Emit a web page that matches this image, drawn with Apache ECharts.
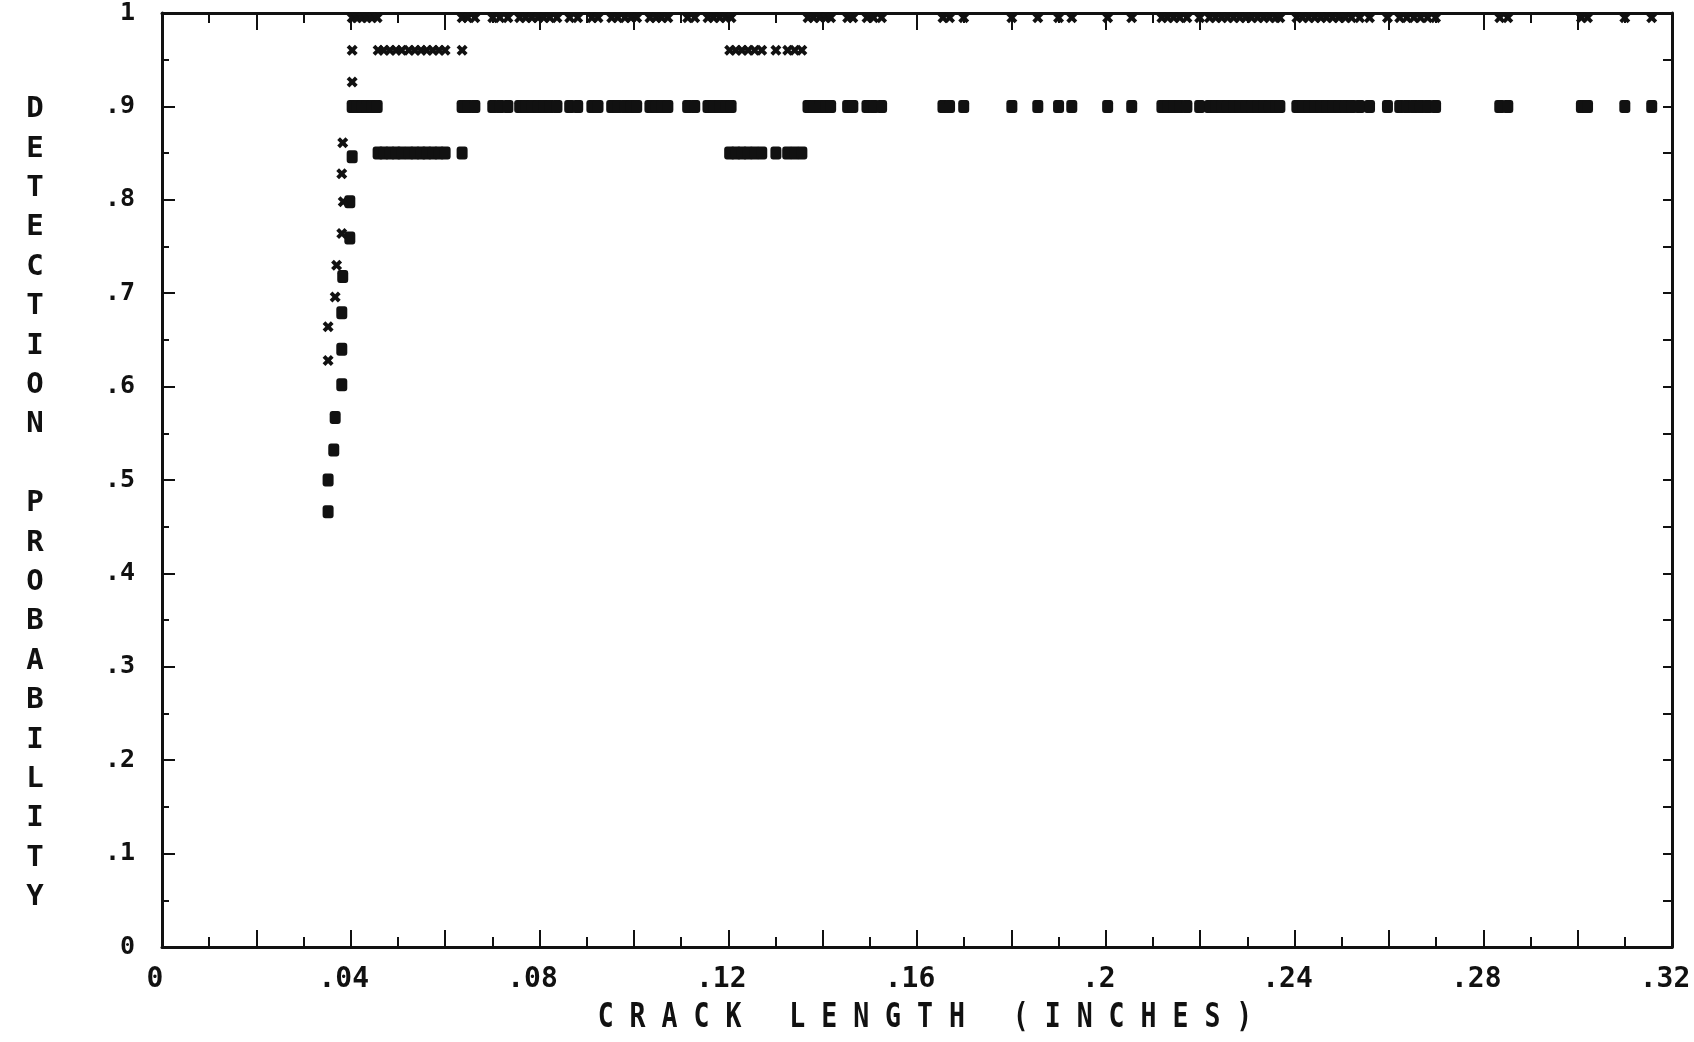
<!DOCTYPE html>
<html><head><meta charset="utf-8">
<script src="https://cdn.jsdelivr.net/npm/echarts/dist/echarts.min.js"></script>
<style>html,body{margin:0;padding:0;background:#fff}#c{width:1694px;height:1042px}</style>
</head><body><div id="c"></div>
<script>
// ---- tick labels & titles ----
const xTickLabels = ['0', '.04', '.08', '.12', '.16', '.2', '.24', '.28', '.32'];
const yTickLabels = ['0', '.1', '.2', '.3', '.4', '.5', '.6', '.7', '.8', '.9', '1'];
const xTitle = 'CRACK LENGTH (INCHES)';
const yTitle = 'DETECTION PROBABILITY';

// ---- steep rise near .04 (filled squares) ----
const squareCurveX = [0.0352, 0.0352, 0.0364, 0.0367, 0.0381, 0.0381, 0.0381, 0.0383, 0.0398, 0.0398, 0.0403];
const squareCurveY = [0.466, 0.500, 0.532, 0.567, 0.602, 0.640, 0.679, 0.718, 0.759, 0.798, 0.846];

// ---- steep rise near .04 (crosses) ----
const crossCurveX = [0.0352, 0.0352, 0.0367, 0.0370, 0.0381, 0.0384, 0.0381, 0.0383, 0.0403, 0.0403];
const crossCurveY = [0.628, 0.664, 0.696, 0.730, 0.764, 0.798, 0.828, 0.861, 0.926, 0.960];

// ---- upper band: squares at .9, crosses at the top ----
const upperBandX = [
  0.0403, 0.0413, 0.0424, 0.0434, 0.0445, 0.0456,
  0.0636, 0.0648, 0.0663,
  0.0701, 0.0716, 0.0733,
  0.0758, 0.0771, 0.0784, 0.0797, 0.0809, 0.0822, 0.0837,
  0.0864, 0.0881,
  0.0911, 0.0924,
  0.0953, 0.0966, 0.0981, 0.0994, 0.1006,
  0.1034, 0.1047, 0.1059, 0.1072,
  0.1114, 0.1129,
  0.1157, 0.1169, 0.1182, 0.1195, 0.1206,
  0.1369, 0.1381, 0.1394, 0.1407, 0.1417,
  0.1453, 0.1464,
  0.1494, 0.1508, 0.1525,
  0.1655, 0.1669,
  0.1699,
  0.1801, 0.1856, 0.1900, 0.1928, 0.2004, 0.2055,
  0.2119, 0.2131, 0.2144, 0.2157, 0.2172,
  0.2199,
  0.2220, 0.2233, 0.2246, 0.2258, 0.2271, 0.2284, 0.2297, 0.2309, 0.2322, 0.2335, 0.2347, 0.2360, 0.2369,
  0.2405, 0.2417, 0.2430, 0.2443, 0.2456, 0.2468, 0.2481, 0.2494, 0.2508, 0.2521, 0.2538,
  0.2559,
  0.2597, 0.2623, 0.2638, 0.2653, 0.2667, 0.2682, 0.2699,
  0.2835, 0.2852,
  0.3008, 0.3021,
  0.3100,
  0.3157
];
const upperBandSquareY = 0.9;
const upperBandCrossY = 0.995;

// ---- lower band: squares at .85, crosses at .96 ----
const lowerBandX = [
  0.0458, 0.0470, 0.0483, 0.0496, 0.0508, 0.0523, 0.0536, 0.0549, 0.0561, 0.0574, 0.0587, 0.0600,
  0.0636,
  0.1203, 0.1216, 0.1229, 0.1242, 0.1256, 0.1271,
  0.1301,
  0.1326, 0.1341, 0.1356
];
const lowerBandSquareY = 0.85;
const lowerBandCrossY = 0.96;

// ---- build series data ----
const squareData = squareCurveX.map((x, i) => [x, squareCurveY[i]])
  .concat(upperBandX.map(x => [x, upperBandSquareY]))
  .concat(lowerBandX.map(x => [x, lowerBandSquareY]));
const crossData = crossCurveX.map((x, i) => [x, crossCurveY[i]])
  .concat(upperBandX.map(x => [x, upperBandCrossY]))
  .concat(lowerBandX.map(x => [x, lowerBandCrossY]));

const FONT = '"DejaVu Sans Mono", "Liberation Mono", monospace';
const INK = '#111';
const crossPath = 'path://M0,2.5 L2.5,0 L5,2.5 L7.5,0 L10,2.5 L7.5,5 L10,7.5 L7.5,10 L5,7.5 L2.5,10 L0,7.5 L2.5,5 Z';

function xFmt(v) {
  const k = Math.round(v * 100);
  if (k % 4 !== 0) return '';
  return xTickLabels[k / 4] || '';
}
function yFmt(v) {
  const k = Math.round(v * 100);
  if (k % 10 !== 0) return '';
  return yTickLabels[k / 10] || '';
}

const axisLine = { show: true, onZero: false, lineStyle: { color: INK, width: 3 } };

const chart = echarts.init(document.getElementById('c'), null, { renderer: 'canvas' });
chart.setOption({
  backgroundColor: '#fff',
  animation: false,
  grid: { left: 162, right: 22, top: 13, bottom: 95, containLabel: false },
  xAxis: [
    {
      type: 'value', position: 'bottom', min: 0, max: 0.32, interval: 0.02,
      axisLine: axisLine,
      axisTick: { show: true, inside: true, length: 17, lineStyle: { color: INK, width: 2 } },
      minorTick: { show: true, splitNumber: 2, length: 10, lineStyle: { color: INK, width: 2 } },
      splitLine: { show: false },
      axisLabel: {
        formatter: xFmt, fontFamily: FONT, fontSize: 28, fontWeight: 'bold', color: INK, margin: 19,
        padding: [0, 14, 0, 0], showMinLabel: true, showMaxLabel: true
      }
    },
    {
      type: 'value', position: 'top', min: 0, max: 0.32, interval: 0.02,
      axisLine: axisLine,
      axisTick: { show: true, inside: true, length: 17, lineStyle: { color: INK, width: 2 } },
      minorTick: { show: true, splitNumber: 2, length: 10, lineStyle: { color: INK, width: 2 } },
      splitLine: { show: false },
      axisLabel: { show: false }
    }
  ],
  yAxis: [
    {
      type: 'value', position: 'left', min: 0, max: 1, interval: 0.1,
      axisLine: axisLine,
      axisTick: { show: true, inside: true, length: 13, lineStyle: { color: INK, width: 2 } },
      minorTick: { show: true, splitNumber: 2, length: 7, lineStyle: { color: INK, width: 2 } },
      splitLine: { show: false },
      axisLabel: {
        formatter: yFmt, fontFamily: FONT, fontSize: 25, fontWeight: 'bold', color: INK, margin: 27,
        padding: [12, 0, 0, 0], showMinLabel: true, showMaxLabel: true
      }
    },
    {
      type: 'value', position: 'right', min: 0, max: 1, interval: 0.05,
      axisLine: axisLine,
      axisTick: { show: true, inside: true, length: 9, lineStyle: { color: INK, width: 2 } },
      splitLine: { show: false },
      axisLabel: { show: false }
    }
  ],
  series: [
    {
      type: 'scatter', name: 'squares', xAxisIndex: 0, yAxisIndex: 0,
      symbol: 'roundRect', symbolSize: [11, 13],
      itemStyle: { color: INK, opacity: 1 },
      data: squareData, clip: false
    },
    {
      type: 'scatter', name: 'crosses', xAxisIndex: 0, yAxisIndex: 0,
      symbol: crossPath, symbolSize: [11, 11],
      itemStyle: { color: INK, opacity: 1 },
      data: crossData, clip: false
    }
  ],
  graphic: [
    {
      type: 'text', x: 925, y: 1018, scaleX: 0.78,
      style: {
        text: xTitle.split('').join(' '),
        font: 'bold 34px ' + FONT, fill: INK,
        textAlign: 'center', textVerticalAlign: 'middle'
      }
    },
    {
      type: 'text', x: 35, y: 90,
      style: {
        text: yTitle.split('').join('\n'),
        font: 'bold 29px ' + FONT, fill: INK, lineHeight: 39.4,
        textAlign: 'center', textVerticalAlign: 'top'
      }
    }
  ]
});
</script></body></html>
